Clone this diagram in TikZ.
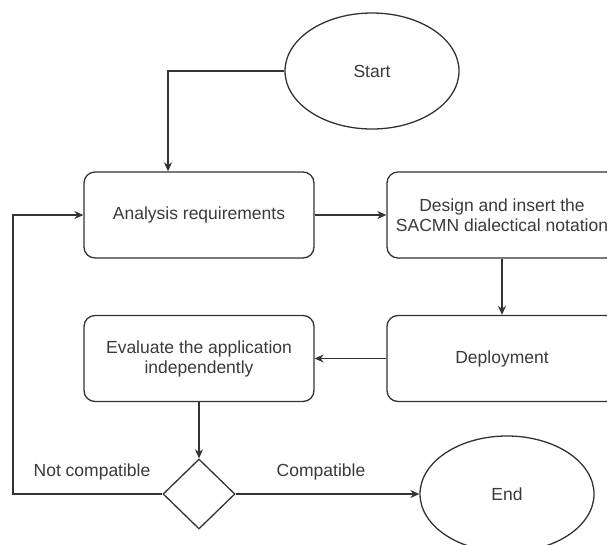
\documentclass[tikz,border=0pt]{standalone}
\usepackage{fontspec}
\setmainfont{Liberation Sans}
\usetikzlibrary{shapes.geometric,arrows.meta}
\definecolor{linec}{HTML}{333333}
\definecolor{textc}{HTML}{3A3A3A}
\tikzset{
  base/.style={draw=linec, line width=1.3pt, text=textc, font=\fontsize{17.5}{20}\selectfont},
  procbox/.style={base, rounded corners=11pt, minimum width=230pt, minimum height=86pt, align=center, inner sep=0pt},
  terminal/.style={base, ellipse, minimum width=174pt, minimum height=116pt, inner sep=0pt},
  decision/.style={base, diamond, minimum width=72pt, minimum height=70pt, inner sep=0pt},
  flow/.style={draw=linec, line width=1.3pt, -{Stealth[length=9pt,width=8pt]}},
  lbl/.style={text=textc, font=\fontsize{17.5}{20}\selectfont}
}
\begin{document}
\begin{tikzpicture}[x=1pt,y=-1pt]
\clip (0,0) rectangle (607,544);
\fill[white] (0,0) rectangle (607,544);

% shapes
\node[terminal] (start) at (372,71) {Start};
\node[procbox] (analysis) at (199,215) {Analysis requirements};
\node[procbox] (design) at (502,215) {Design and insert the\\SACMN dialectical notation};
\node[procbox] (deploy) at (502,358.5) {Deployment};
\node[procbox] (eval) at (199,358.5) {Evaluate the application\\independently};
\node[decision] (check) at (199,494) {};
\node[terminal] (end) at (507,494) {End};

% connectors
\draw[flow] (start.west) -| ([xshift=-31pt]analysis.north);
\draw[flow] (analysis.east) -- (design.west);
\draw[flow] (design.south) -- (deploy.north);
\draw[flow] (deploy.west) -- (eval.east);
\draw[flow] (eval.south) -- (check.north);
\draw[flow] (check.east) -- (end.west);
\coordinate (loop) at (13,494);
\draw[flow] (check.west) -- (loop) |- (analysis.west);

% branch labels
\node[lbl] (nc) at (92,472) {Not compatible};
\node[lbl] (ok) at (321,472) {Compatible};
\end{tikzpicture}
\end{document}
